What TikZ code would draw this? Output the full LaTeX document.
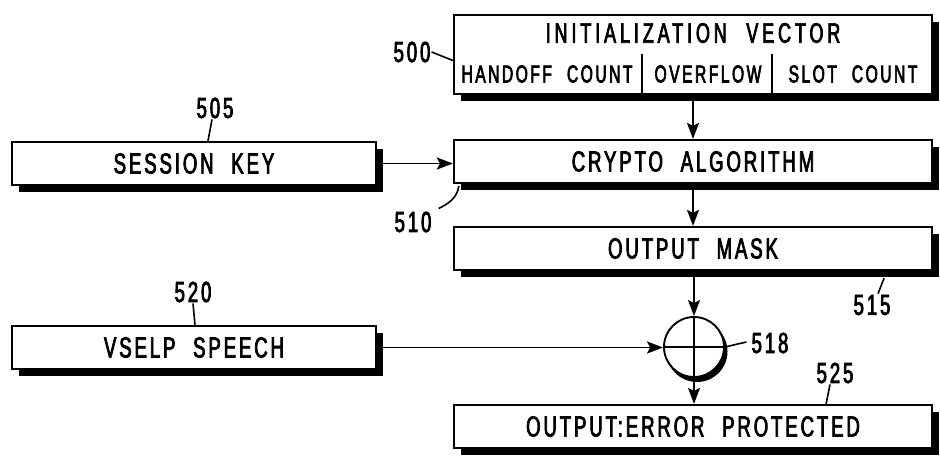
\documentclass[tikz,border=0pt]{standalone}
\usepackage{fontspec}
\setmainfont{Liberation Sans}[FakeStretch=0.64,LetterSpace=10,WordSpace=2.2,FakeBold=2.6]
\usetikzlibrary{arrows.meta,shadows,calc}

\begin{document}
\begin{tikzpicture}[x=1pt,y=-1pt,
  blockbox/.style={draw, line width=2.2pt, fill=white, inner sep=0pt,
    minimum width=478pt, minimum height=43pt,
    font=\fontsize{29}{31}\selectfont,
    drop shadow={shadow xshift=7pt, shadow yshift=-7pt, opacity=1, fill=black}},
  inputbox/.style={blockbox, minimum width=364pt},
  celltext/.style={inner sep=1pt, font=\fontsize{24.5}{27}\selectfont},
  titletext/.style={inner sep=1pt, font=\fontsize{28}{30}\selectfont\addfontfeature{LetterSpace=14}},
  reftext/.style={inner sep=1pt, font=\fontsize{29}{31}\selectfont},
  flow/.style={line width=1.8pt, -{Stealth[length=16pt,width=12pt,inset=3pt]}},
  plainline/.style={line width=1.8pt},
  leader/.style={line width=1.6pt}]

\useasboundingbox (0,0) rectangle (940,465);

% initialization vector block with its three fields
\node[blockbox, minimum height=79pt] (iv) at (693,54.5) {};
\node[titletext] (ivtitle) at (693,33) {INITIALIZATION VECTOR};
\node[celltext] (fhand) at (547,74) {HANDOFF COUNT};
\node[celltext] (fover) at (708,74) {OVERFLOW};
\node[celltext] (fslot) at (853,74) {SLOT COUNT};
\draw[plainline] ($(iv.south west)+(189,0)$) -- ++(0,-41);
\draw[plainline] ($(iv.south west)+(319,0)$) -- ++(0,-41);

% processing chain
\node[inputbox] (sk) at (194,163.5) {SESSION KEY};
\node[blockbox] (crypto) at (693,161.5) {CRYPTO ALGORITHM};
\node[blockbox] (mask) at (693,248.5) {OUTPUT MASK};
\node[inputbox] (vs) at (194,347.5) {VSELP SPEECH};
\node[blockbox] (out) at (693,426.5) {OUTPUT:ERROR PROTECTED};

% modulo-2 adder with its shaded rim
\coordinate (xorc) at (694,347);
\fill[black] ($(xorc)+(3,4.5)$) circle (30.5);
\node[draw, circle, minimum size=60pt, inner sep=0pt, line width=1.9pt, fill=white] (xor) at (xorc) {};
\draw[plainline] (xor.north) -- (xor.south);
\draw[plainline] (xor.west) -- (xor.east);

% connectors
\draw[flow] (iv.south) -- (crypto.north);
\draw[flow] (sk.east) -- (sk.east -| crypto.west);
\draw[flow] (crypto.south) -- (mask.north);
\draw[flow] (mask.south -| xor.north) -- (xor.north);
\draw[flow] (vs.east) -- (vs.east -| xor.west);
\draw[flow] (xor.south) -- (xor.south |- out.north);

% reference numerals
\node[reftext] (l500) at (412,52) {500};
\node[reftext] (l505) at (215,108) {505};
\node[reftext] (l510) at (413,222) {510};
\node[reftext] (l515) at (872,305) {515};
\node[reftext] (l518) at (770,343) {518};
\node[reftext] (l520) at (193,292) {520};
\node[reftext] (l525) at (835,373) {525};

\draw[leader] (l500.east) -- ([yshift=-6pt]iv.west);
\draw[leader] ([xshift=-3pt]l505.south) -- ([xshift=14pt]sk.north);
\draw[leader] ([xshift=6pt,yshift=-2pt]crypto.south west)
  .. controls +(-2,13) and +(8,-4) .. ([xshift=6pt,yshift=2pt]l510.north east);
\draw[leader] ([xshift=-49pt,yshift=-7pt]mask.south east) -- ([xshift=6pt]l515.north);
\draw[leader] (xor.east) -- ([xshift=-4pt,yshift=1pt]l518.west);
\draw[leader] ([xshift=1pt]vs.north) -- (l520.south);
\draw[leader] ([xshift=-107pt]out.north east) -- ([xshift=-5pt]l525.south);

\end{tikzpicture}
\end{document}
